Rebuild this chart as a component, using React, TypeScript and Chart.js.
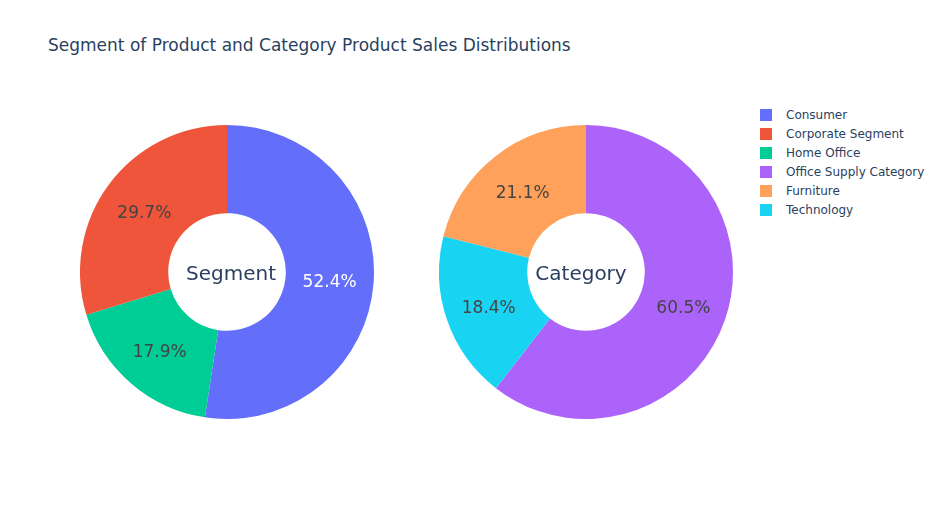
import React, { useEffect, useRef } from "react";
import { Chart, registerables } from "chart.js";

Chart.register(...registerables);

const segmentLabels = ["Consumer", "Home Office", "Corporate Segment"];
const segmentValues = [52.4, 17.9, 29.7];
const segmentColors = ["#636efa", "#00cc96", "#EF553B"];
const segmentTextColors = ["#ffffff", "#444444", "#444444"];

const categoryLabels = ["Office Supply Category", "Technology", "Furniture"];
const categoryValues = [60.5, 18.4, 21.1];
const categoryColors = ["#ab63fa", "#19d3f3", "#FFA15A"];
const categoryTextColors = ["#444444", "#444444", "#444444"];

const legendLabels = ["Consumer", "Corporate Segment", "Home Office", "Office Supply Category", "Furniture", "Technology"];
const legendColors = ["#636efa", "#EF553B", "#00cc96", "#ab63fa", "#FFA15A", "#19d3f3"];

const FONT = "'DejaVu Sans', Verdana, sans-serif";

const labelPlugin = {
  id: "sliceLabels",
  afterDatasetsDraw(chart: any) {
    const { ctx } = chart;
    const opts = chart.options.plugins.sliceLabels;
    const meta = chart.getDatasetMeta(0);
    const data = chart.data.datasets[0].data as number[];
    const total = data.reduce((a, b) => a + b, 0);
    ctx.save();
    ctx.font = `17px ${FONT}`;
    ctx.textAlign = "center";
    ctx.textBaseline = "middle";
    meta.data.forEach((arc: any, i: number) => {
      const p = arc.getCenterPoint();
      ctx.fillStyle = opts.textColors[i];
      ctx.fillText(((data[i] / total) * 100).toFixed(1) + "%", p.x, p.y + 3);
    });
    const a = chart.chartArea;
    ctx.fillStyle = "#2a3f5f";
    ctx.font = `20px ${FONT}`;
    ctx.fillText(opts.centerText, (a.left + a.right) / 2 + opts.centerDx, (a.top + a.bottom) / 2 + 3);
    ctx.restore();
  },
};

function Donut(props: { labels: string[]; values: number[]; colors: string[]; textColors: string[]; center: string; centerDx: number; left: number; top: number; size: number }) {
  const ref = useRef<HTMLCanvasElement>(null);
  useEffect(() => {
    const chart = new Chart(ref.current!, {
      type: "doughnut",
      data: {
        labels: props.labels,
        datasets: [{ data: props.values, backgroundColor: props.colors, borderWidth: 0 }],
      },
      options: {
        animation: false,
        responsive: false,
        cutout: "40%",
        rotation: 0,
        layout: { padding: 0 },
        plugins: {
          legend: { display: false },
          tooltip: { enabled: false },
          sliceLabels: { textColors: props.textColors, centerText: props.center, centerDx: props.centerDx },
        } as any,
      },
      plugins: [labelPlugin],
    });
    return () => chart.destroy();
  }, []);
  return (
    <canvas
      ref={ref}
      width={props.size}
      height={props.size}
      style={{ position: "absolute", left: props.left, top: props.top, width: props.size, height: props.size }}
    />
  );
}

export default function App() {
  useEffect(() => {
    document.body.style.margin = "0";
  }, []);
  return (
    <div style={{ position: "absolute", left: 0, top: 0, width: 943, height: 525, background: "#fff", fontFamily: FONT, overflow: "hidden" }}>
      <div style={{ position: "absolute", left: 48, top: 34, fontSize: 17, color: "#2a3f5f", whiteSpace: "nowrap", lineHeight: "22px" }}>
        Segment of Product and Category Product Sales Distributions
      </div>
      <Donut labels={segmentLabels} values={segmentValues} colors={segmentColors} textColors={segmentTextColors} center="Segment" centerDx={4} left={80} top={125} size={294} />
      <Donut labels={categoryLabels} values={categoryValues} colors={categoryColors} textColors={categoryTextColors} center="Category" centerDx={-5} left={439} top={125} size={294} />
      <div style={{ position: "absolute", left: 760, top: 105 }}>
        {legendLabels.map((l, i) => (
          <div key={l} style={{ display: "flex", alignItems: "center", height: 19, fontSize: 12, color: "#2a3f5f", whiteSpace: "nowrap" }}>
            <span style={{ display: "inline-block", width: 12, height: 12, background: legendColors[i], marginRight: 14 }} />
            {l}
          </div>
        ))}
      </div>
    </div>
  );
}
